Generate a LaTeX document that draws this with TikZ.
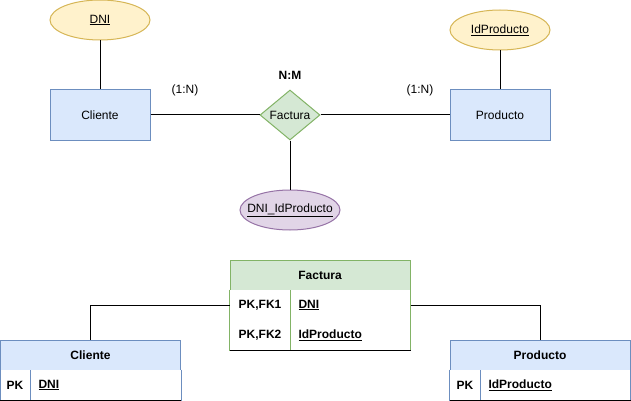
\documentclass[tikz,border=0pt]{standalone}
\usepackage{fontspec}
\setmainfont{Liberation Sans}
\usetikzlibrary{shapes.geometric}

\definecolor{azulfondo}{HTML}{DAE8FC}
\definecolor{azulborde}{HTML}{6C8EBF}
\definecolor{amarillofondo}{HTML}{FFF2CC}
\definecolor{amarilloborde}{HTML}{D6B656}
\definecolor{verdefondo}{HTML}{D5E8D4}
\definecolor{verdeborde}{HTML}{82B366}
\definecolor{moradofondo}{HTML}{E1D5E7}
\definecolor{moradoborde}{HTML}{9673A6}

\begin{document}
\begin{tikzpicture}[x=1pt, y=-1pt, line width=1pt,
    font=\fontsize{12}{14}\selectfont,
    entidad/.style={draw=azulborde, fill=azulfondo, minimum width=100pt, minimum height=50pt, inner sep=0pt},
    atributo/.style={ellipse, draw=#1borde, fill=#1fondo, minimum width=100pt, minimum height=40pt, inner sep=0pt},
    relacion/.style={diamond, draw=verdeborde, fill=verdefondo, minimum width=60pt, minimum height=50pt, inner sep=0pt},
    cabecera/.style={draw=#1borde, fill=#1fondo, minimum width=180pt, minimum height=30pt, inner sep=0pt, font=\fontsize{12}{14}\selectfont\bfseries},
    fila/.style={fill=white, minimum width=180pt, minimum height=30pt, inner sep=0pt},
    clave/.style={font=\fontsize{12}{14}\selectfont\bfseries},
    campo/.style={anchor=west, inner sep=0pt, font=\fontsize{12}{14}\selectfont\bfseries}]

    \useasboundingbox (0,0) rectangle (631,401);

    % modelo entidad-relacion
    \node[entidad] (cliente) at (100,115) {Cliente};
    \node[entidad] (producto) at (500,115) {Producto};
    \node[relacion, label=center:Factura] (factura) at (290,115) {};

    % atributos
    \node[atributo=amarillo, label=center:\underline{DNI}] (dni) at (100,20) {};
    \node[atributo=amarillo, label=center:\underline{IdProducto}] (idproducto) at (500,30) {};
    \node[atributo=morado, label=center:\underline{DNI\_IdProducto}] (dniid) at (290,210) {};

    \draw (dni) -- (cliente);
    \draw (idproducto) -- (producto);
    \draw (factura) -- (dniid);
    \draw (cliente) -- (factura);
    \draw (factura) -- (producto);

    % cardinalidades
    \node (cardcliente) at (185,90) {(1:N)};
    \node (cardproducto) at (420,90) {(1:N)};
    \node[font=\fontsize{12}{14}\selectfont\bfseries] (tipo) at (290,75) {N:M};

    % tabla factura
    \node[cabecera=verde] (tfactura) at (320,275) {Factura};
    \node[fila] (filadni) at (320,305) {};
    \node[fila] (filaid) at (320,335) {};
    \draw[verdeborde] (filadni.north west) -- (filaid.south west);
    \draw[verdeborde] (filadni.north east) -- (filaid.south east);
    \draw[verdeborde] (290,290) -- (290,350);
    \draw (filaid.south west) -- (filaid.south east);
    \node[clave] (fk1) at (260,305) {PK,FK1};
    \node[clave] (fk2) at (260,335) {PK,FK2};
    \node[campo] (fdni) at (298,305) {\underline{DNI}};
    \node[campo] (fid) at (298,335) {\underline{IdProducto}};

    % tabla cliente
    \node[cabecera=azul] (tcliente) at (90.5,355) {Cliente};
    \node[fila] (filacliente) at (90.5,385) {};
    \draw[azulborde] (filacliente.north west) -- (filacliente.south west);
    \draw[azulborde] (filacliente.north east) -- (filacliente.south east);
    \draw[azulborde] (30,370) -- (30,400);
    \draw (filacliente.south west) -- (filacliente.south east);
    \node[clave] (pkcliente) at (15,385) {PK};
    \node[campo] (cdni) at (38,385) {\underline{DNI}};

    % tabla producto
    \node[cabecera=azul] (tproducto) at (540,355) {Producto};
    \node[fila] (filaproducto) at (540,385) {};
    \draw[azulborde] (filaproducto.north west) -- (filaproducto.south west);
    \draw[azulborde] (filaproducto.north east) -- (filaproducto.south east);
    \draw[azulborde] (480,370) -- (480,400);
    \draw (filaproducto.south west) -- (filaproducto.south east);
    \node[clave] (pkproducto) at (465,385) {PK};
    \node[campo] (pid) at (488,385) {\underline{IdProducto}};

    % conexiones entre tablas
    \draw (filadni.west) -| (tcliente.north);
    \draw (filadni.east) -| (tproducto.north);
\end{tikzpicture}
\end{document}
